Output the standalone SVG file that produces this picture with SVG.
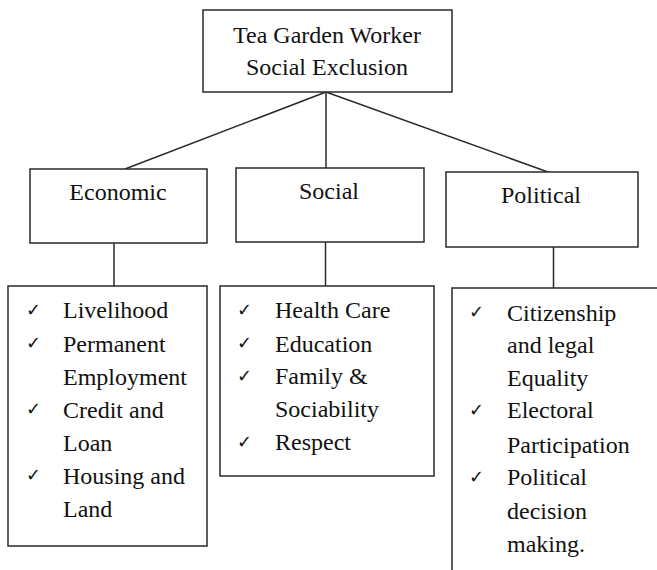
<svg xmlns="http://www.w3.org/2000/svg" width="657" height="570" viewBox="0 0 657 570">
<style>
.box{fill:#fff;stroke:#2a2a2a;stroke-width:1.5}
.ln{stroke:#2a2a2a;stroke-width:1.5;fill:none}
.t{font-family:"Liberation Serif","Times New Roman",serif;font-size:24px;fill:#111}
.h{font-family:"Liberation Serif","Times New Roman",serif;font-size:24px;fill:#111;text-anchor:middle}
.ck{font-family:"DejaVu Sans",sans-serif;font-size:18px;fill:#111}
</style>
<rect width="657" height="570" fill="#fff"/>
<g id="connectors">
<line class="ln" x1="326" y1="92" x2="125" y2="169"/>
<line class="ln" x1="326" y1="92" x2="326" y2="168"/>
<line class="ln" x1="326" y1="92" x2="548" y2="172"/>
<line class="ln" x1="114" y1="243" x2="114" y2="286"/>
<line class="ln" x1="325.5" y1="242" x2="325.5" y2="286"/>
<line class="ln" x1="553.5" y1="247" x2="553.5" y2="288"/>
</g>
<g id="root">
<rect class="box" x="203" y="10" width="249" height="82"/>
<text class="h" x="327" y="43">Tea Garden Worker</text>
<text class="h" x="327" y="75">Social Exclusion</text>
</g>
<g id="economic">
<rect class="box" x="30" y="169" width="177" height="74"/>
<text class="h" x="118" y="200">Economic</text>
</g>
<g id="social">
<rect class="box" x="236" y="168" width="188" height="74"/>
<text class="h" x="329" y="199">Social</text>
</g>
<g id="political">
<rect class="box" x="446" y="172" width="192" height="75"/>
<text class="h" x="541" y="203">Political</text>
</g>
<g id="economic-list">
<rect class="box" x="8" y="286" width="199" height="260"/>
<text class="ck" x="26" y="316">✓</text>
<text class="ck" x="26" y="349">✓</text>
<text class="ck" x="26" y="415">✓</text>
<text class="ck" x="26" y="481">✓</text>
<text class="t" x="63" y="318">Livelihood</text>
<text class="t" x="63" y="352">Permanent</text>
<text class="t" x="63" y="385">Employment</text>
<text class="t" x="63" y="418">Credit and</text>
<text class="t" x="63" y="451">Loan</text>
<text class="t" x="63" y="484">Housing and</text>
<text class="t" x="63" y="517">Land</text>
</g>
<g id="social-list">
<rect class="box" x="220" y="286" width="214" height="190"/>
<text class="ck" x="237" y="316">✓</text>
<text class="ck" x="237" y="349">✓</text>
<text class="ck" x="237" y="382">✓</text>
<text class="ck" x="237" y="448">✓</text>
<text class="t" x="275" y="318">Health Care</text>
<text class="t" x="275" y="352">Education</text>
<text class="t" x="275" y="384">Family &amp;</text>
<text class="t" x="275" y="417">Sociability</text>
<text class="t" x="275" y="450">Respect</text>
</g>
<g id="political-list">
<rect class="box" x="452" y="288" width="220" height="300"/>
<text class="ck" x="469" y="318">✓</text>
<text class="ck" x="469" y="416">✓</text>
<text class="ck" x="469" y="483">✓</text>
<text class="t" x="507" y="321">Citizenship</text>
<text class="t" x="507" y="353">and legal</text>
<text class="t" x="507" y="386">Equality</text>
<text class="t" x="507" y="418">Electoral</text>
<text class="t" x="507" y="453">Participation</text>
<text class="t" x="507" y="485">Political</text>
<text class="t" x="507" y="519">decision</text>
<text class="t" x="507" y="552">making.</text>
</g>
</svg>
